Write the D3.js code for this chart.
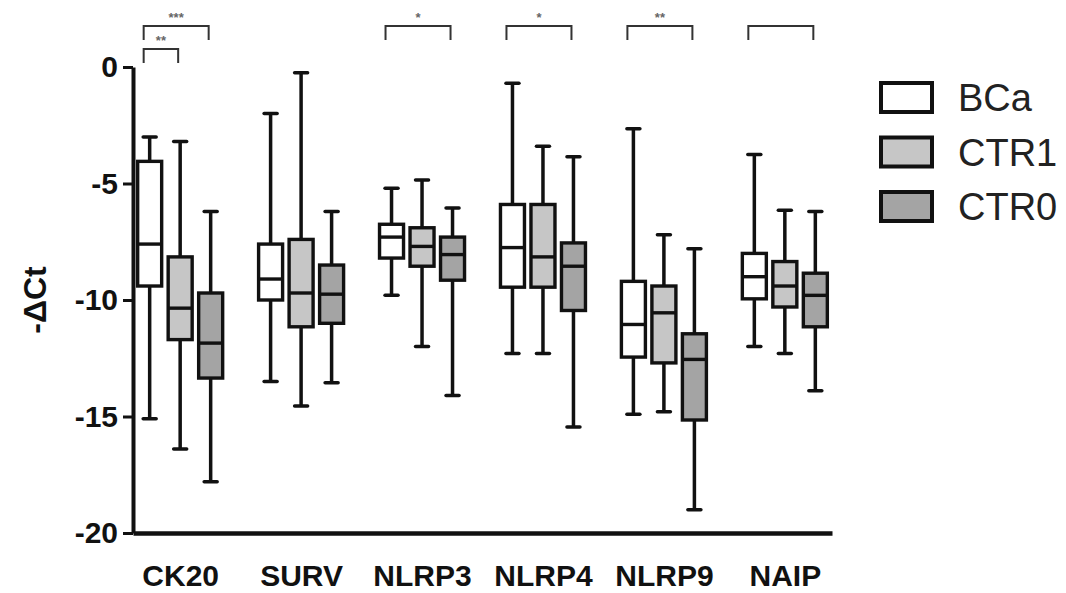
<!DOCTYPE html>
<html>
<head>
<meta charset="utf-8">
<script src="https://cdn.jsdelivr.net/npm/d3@7"></script>
<style>
    body { margin: 0; background: #fff; }
    svg { display: block; font-family: 'Liberation Sans', Arial, sans-serif; }
</style>
</head>
<body>
<svg id="viz"></svg>
<script>
// box stats per gene: [whisker low, q1, median, q3, whisker high]
const genes = ['CK20', 'SURV', 'NLRP3', 'NLRP4', 'NLRP9', 'NAIP']
const groups = ['BCa', 'CTR1', 'CTR0']
const bcaStats = [
    [-15.1, -9.4, -7.6, -4.05, -3.0],
    [-13.5, -10.0, -9.1, -7.6, -2.0],
    [-9.8, -8.2, -7.3, -6.75, -5.2],
    [-12.3, -9.45, -7.75, -5.9, -0.7],
    [-14.9, -12.45, -11.05, -9.2, -2.65],
    [-12.0, -9.95, -9.0, -8.0, -3.75]
]
const ctr1Stats = [
    [-16.4, -11.7, -10.35, -8.15, -3.2],
    [-14.55, -11.15, -9.7, -7.4, -0.25],
    [-12.0, -8.55, -7.7, -6.9, -4.85],
    [-12.3, -9.45, -8.15, -5.9, -3.4],
    [-14.8, -12.7, -10.55, -9.4, -7.2],
    [-12.3, -10.3, -9.4, -8.35, -6.15]
]
const ctr0Stats = [
    [-17.8, -13.35, -11.85, -9.7, -6.2],
    [-13.55, -11.0, -9.75, -8.5, -6.2],
    [-14.1, -9.15, -8.05, -7.3, -6.05],
    [-15.45, -10.45, -8.55, -7.55, -3.85],
    [-19.0, -15.15, -12.55, -11.45, -7.8],
    [-13.9, -11.15, -9.8, -8.85, -6.2]
]
const yTicks = [0, -5, -10, -15, -20]
// significance brackets: gene, compared groups, label
const brackets = [
    { gene: 'CK20', pair: ['BCa', 'CTR0'], level: 0, label: '***' },
    { gene: 'CK20', pair: ['BCa', 'CTR1'], level: 1, label: '**' },
    { gene: 'NLRP3', pair: ['BCa', 'CTR0'], level: 0, label: '*' },
    { gene: 'NLRP4', pair: ['BCa', 'CTR0'], level: 0, label: '*' },
    { gene: 'NLRP9', pair: ['BCa', 'CTR0'], level: 0, label: '**' },
    { gene: 'NAIP', pair: ['BCa', 'CTR0'], level: 0, label: '' }
]

;(function () {
    let config = {
        w: 1066,
        h: 593,
        plot: { left: 133, right: 832, top: 67, bottom: 533 },
        boxWidth: 24,
        capWidth: 13,
        fills: { BCa: '#ffffff', CTR1: '#c6c6c6', CTR0: '#a4a4a4' },
        ink: '#111'
    }

    function drawChart() {
        let p = config.plot
        let svg = d3.select('#viz')
            .attr('width', config.w)
            .attr('height', config.h)

        let xScale = d3.scalePoint()
            .domain(genes)
            .range([p.left, p.right])
            .padding(0.39)
        let offset = d3.scalePoint()
            .domain(groups)
            .range([-30.5, 30.5])
        let yScale = d3.scaleLinear()
            .domain([-20, 0])
            .range([p.bottom, p.top])

        let statsByGroup = { BCa: bcaStats, CTR1: ctr1Stats, CTR0: ctr0Stats }
        let rows = []
        groups.forEach(g => {
            genes.forEach((gene, i) => {
                let s = statsByGroup[g][i]
                rows.push({ gene, group: g, lo: s[0], q1: s[1], med: s[2], q3: s[3], hi: s[4] })
            })
        })

        let gBoxes = svg.append('g').attr('class', 'boxes')
        rows.forEach(d => {
            let cx = xScale(d.gene) + offset(d.group)
            let g = gBoxes.append('g')
                .attr('stroke', config.ink)
            // whisker
            g.append('line')
                .attr('x1', cx).attr('x2', cx)
                .attr('y1', yScale(d.hi)).attr('y2', yScale(d.lo))
                .attr('stroke-width', 3.5)
            ;[d.hi, d.lo].forEach(v => {
                g.append('line')
                    .attr('x1', cx - config.capWidth / 2).attr('x2', cx + config.capWidth / 2)
                    .attr('y1', yScale(v)).attr('y2', yScale(v))
                    .attr('stroke-width', 3.5)
                    .attr('stroke-linecap', 'round')
            })
            g.append('rect')
                .attr('x', cx - config.boxWidth / 2)
                .attr('y', yScale(d.q3))
                .attr('width', config.boxWidth)
                .attr('height', yScale(d.q1) - yScale(d.q3))
                .attr('fill', config.fills[d.group])
                .attr('stroke-width', 3.4)
            g.append('line')
                .attr('x1', cx - config.boxWidth / 2).attr('x2', cx + config.boxWidth / 2)
                .attr('y1', yScale(d.med)).attr('y2', yScale(d.med))
                .attr('stroke-width', 3.4)
        })

        // y axis
        let yAxis = svg.append('g')
            .attr('transform', 'translate(' + p.left + ',0)')
            .call(d3.axisLeft(yScale).tickValues(yTicks).tickFormat(d => String(d))
                .tickSize(10).tickSizeOuter(0).tickPadding(5))
        yAxis.select('.domain').attr('stroke', config.ink).attr('stroke-width', 4)
        yAxis.selectAll('.tick line').attr('stroke', config.ink).attr('stroke-width', 3)
        yAxis.selectAll('.tick text')
            .attr('fill', config.ink)
            .attr('font-size', 30)
            .attr('font-weight', 'bold')
            .attr('font-family', "'Liberation Sans', Arial, sans-serif")

        // x axis
        let xAxis = svg.append('g')
            .attr('transform', 'translate(0,' + p.bottom + ')')
            .call(d3.axisBottom(xScale).tickSize(0).tickSizeOuter(0).tickPadding(32))
        xAxis.select('.domain').attr('stroke', config.ink).attr('stroke-width', 4.5)
        xAxis.selectAll('.tick text')
            .attr('fill', config.ink)
            .attr('font-size', 30)
            .attr('font-weight', 'bold')
            .attr('font-family', "'Liberation Sans', Arial, sans-serif")

        svg.append('text')
            .attr('transform', 'translate(46,' + (p.top + p.bottom) / 2 + ') rotate(-90)')
            .attr('text-anchor', 'middle')
            .attr('font-size', 32)
            .attr('font-weight', 'bold')
            .attr('fill', config.ink)
            .text('-\u0394Ct')

        // significance brackets
        let gBr = svg.append('g').attr('class', 'brackets')
        brackets.forEach(b => {
            let x1 = xScale(b.gene) + offset(b.pair[0]) - 6
            let x2 = xScale(b.gene) + offset(b.pair[1]) - 2
            let yTop = 26 + b.level * 23
            gBr.append('path')
                .attr('d', `M${x1},${yTop + 14}V${yTop}H${x2}V${yTop + 14}`)
                .attr('fill', 'none')
                .attr('stroke', '#333')
                .attr('stroke-width', 2)
            gBr.append('text')
                .attr('x', (x1 + x2) / 2)
                .attr('y', yTop - 4)
                .attr('text-anchor', 'middle')
                .attr('font-size', 13)
                .attr('font-weight', 'bold')
                .attr('fill', '#666')
                .text(b.label)
        })

        // legend
        let gLeg = svg.append('g').attr('transform', 'translate(881,83)')
        groups.forEach((g, i) => {
            let row = gLeg.append('g').attr('transform', 'translate(0,' + i * 54.5 + ')')
            row.append('rect')
                .attr('width', 51).attr('height', 29)
                .attr('fill', config.fills[g])
                .attr('stroke', config.ink)
                .attr('stroke-width', 4)
            row.append('text')
                .attr('x', 77).attr('y', 14.5)
                .attr('dy', '0.36em')
                .attr('font-size', 38)
                .attr('fill', '#222')
                .text(g)
        })
    }

    drawChart()
})()
</script>
</body>
</html>
